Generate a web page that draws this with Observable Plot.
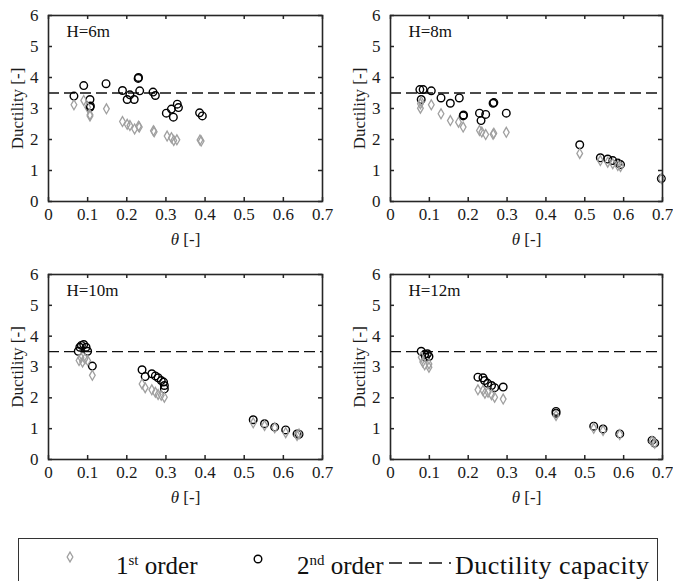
<!DOCTYPE html>
<html><head><meta charset="utf-8">
<script src="https://cdn.jsdelivr.net/npm/d3@7"></script>
<script src="https://cdn.jsdelivr.net/npm/@observablehq/plot@0.6"></script>
<style>
html,body{margin:0;padding:0;background:#fff;}
body{width:673px;height:581px;overflow:hidden;position:relative;font-family:"Liberation Serif","Times New Roman",serif;}
.panel{position:absolute;}
#legend{position:absolute;left:18px;top:538px;}
</style></head><body>
<div id="root"></div>
<script>
// ---------- data ----------
const xTicks = [0, 0.1, 0.2, 0.3, 0.4, 0.5, 0.6, 0.7];
const yTicks = [0, 1, 2, 3, 4, 5, 6];
const capacity = 3.5;
const panelTitles = ["H=6m", "H=8m", "H=10m", "H=12m"];

// H = 6 m
const h6Theta1 = [0.065,0.090,0.100,0.106,0.106,0.148,0.189,0.201,0.208,0.220,0.230,0.232,0.268,0.270,0.303,0.314,0.320,0.328,0.387,0.390];
const h6Duct1  = [3.12,3.26,3.04,2.80,2.76,2.99,2.58,2.49,2.45,2.34,2.43,2.40,2.28,2.25,2.11,2.06,1.97,1.99,1.98,1.95];
const h6Theta2 = [0.065,0.090,0.106,0.106,0.107,0.147,0.189,0.201,0.208,0.219,0.229,0.230,0.233,0.267,0.273,0.301,0.314,0.319,0.329,0.332,0.386,0.393];
const h6Duct2  = [3.40,3.74,3.29,3.04,3.08,3.80,3.58,3.29,3.44,3.29,3.97,4.00,3.57,3.53,3.42,2.85,2.98,2.72,3.14,3.03,2.86,2.76];

// H = 8 m
const h8Theta1 = [0.077,0.077,0.079,0.105,0.130,0.154,0.175,0.187,0.229,0.235,0.245,0.264,0.266,0.298,0.487,0.540,0.559,0.572,0.585,0.592,0.697];
const h8Duct1  = [3.15,3.01,3.22,3.12,2.83,2.61,2.56,2.40,2.29,2.24,2.16,2.17,2.20,2.23,1.55,1.32,1.27,1.22,1.16,1.13,0.74];
const h8Theta2 = [0.0755,0.084,0.079,0.105,0.130,0.154,0.177,0.187,0.188,0.229,0.233,0.245,0.264,0.266,0.298,0.487,0.540,0.559,0.572,0.585,0.592,0.697];
const h8Duct2  = [3.61,3.61,3.29,3.57,3.34,3.17,3.34,2.76,2.79,2.85,2.61,2.81,3.17,3.19,2.85,1.83,1.41,1.37,1.32,1.24,1.19,0.74];

// H = 10 m
const h10Theta1 = [0.078,0.083,0.087,0.093,0.100,0.112,0.239,0.247,0.264,0.273,0.280,0.288,0.296,0.523,0.552,0.578,0.606,0.635,0.640];
const h10Duct1  = [3.21,3.30,3.16,3.27,3.21,2.73,2.45,2.33,2.26,2.18,2.11,2.08,2.02,1.19,1.10,1.03,0.87,0.78,0.83];
const h10Theta2 = [0.076,0.080,0.084,0.090,0.096,0.100,0.112,0.239,0.247,0.264,0.273,0.280,0.288,0.294,0.296,0.296,0.523,0.552,0.578,0.606,0.635,0.640];
const h10Duct2  = [3.51,3.64,3.70,3.73,3.64,3.51,3.03,2.91,2.69,2.78,2.71,2.65,2.56,2.51,2.40,2.29,1.29,1.16,1.05,0.96,0.83,0.82];

// H = 12 m
const h12Theta1 = [0.079,0.083,0.088,0.099,0.099,0.225,0.238,0.243,0.251,0.260,0.268,0.290,0.426,0.523,0.547,0.590,0.673,0.680];
const h12Duct1  = [3.32,3.16,3.07,2.99,3.10,2.26,2.24,2.15,2.18,2.10,2.02,1.96,1.43,1.01,0.94,0.81,0.59,0.53];
const h12Theta2 = [0.079,0.088,0.090,0.095,0.099,0.225,0.238,0.242,0.250,0.260,0.268,0.290,0.426,0.426,0.523,0.547,0.590,0.673,0.680];
const h12Duct2  = [3.51,3.41,3.32,3.43,3.34,2.67,2.65,2.56,2.47,2.40,2.33,2.35,1.56,1.50,1.08,0.99,0.83,0.62,0.53];

const seriesNames = ["1st order", "2nd order", "Ductility capacity"];

// ---------- drawing ----------
const zip = (t, d) => t.map((v, i) => ({t: v, d: d[i]}));
const axisColor = "#262626";
const fs = 17;
const tk = 4; // inward tick length

function panel(title, t1, d1, t2, d2, box) {
  const pw = box.w - box.ml - box.mr;
  const ph = box.h - box.mt - box.mb;
  const ts = {stroke: axisColor, strokeWidth: 1.5};
  const chart = Plot.plot({
    width: box.w, height: box.h,
    marginLeft: box.ml, marginRight: box.mr, marginTop: box.mt, marginBottom: box.mb,
    style: {fontFamily: '"Liberation Serif","Times New Roman",serif', fontSize: fs + "px", color: axisColor, background: "white", overflow: "visible"},
    x: {domain: [0, 0.7]},
    y: {domain: [0, 6]},
    marks: [
      Plot.ruleY([capacity], {stroke: "#111", strokeWidth: 1.3, strokeDasharray: "11,5"}),
      Plot.dot(zip(t2, d2), {x: "t", y: "d", r: 3.8, stroke: "#000", strokeWidth: 1.4}),
      Plot.dot(zip(t1, d1), {x: "t", y: "d", r: 3, symbol: "diamond", stroke: "#a0a0a0", strokeWidth: 1.3}),
      Plot.axisX(xTicks, {anchor: "bottom", tickSize: 0, tickPadding: 6, tickFormat: d => String(d), label: "θ [-]", labelAnchor: "center", labelOffset: 43, labelArrow: "none", fill: "#1a1a1a"}),
      Plot.axisY(yTicks, {anchor: "left", tickSize: 0, tickPadding: 10, tickFormat: d => String(d), label: "Ductility [-]", labelAnchor: "center", labelOffset: 38, labelArrow: "none", fill: "#1a1a1a"}),
      // inward ticks on all four sides
      Plot.ruleX(xTicks, {x: d => d, insetTop: ph - tk, ...ts}),
      Plot.ruleX(xTicks, {x: d => d, insetBottom: ph - tk, ...ts}),
      Plot.ruleY(yTicks, {y: d => d, insetRight: pw - tk, ...ts}),
      Plot.ruleY(yTicks, {y: d => d, insetLeft: pw - tk, ...ts}),
      Plot.frame({stroke: axisColor, strokeWidth: 1.6}),
      Plot.text([title], {frameAnchor: "top-left", textAnchor: "start", lineAnchor: "top", dx: 18, dy: 9, fontSize: fs, fill: "#111"})
    ]
  });
  chart.classList.add("panel");
  chart.style.left = box.x + "px";
  chart.style.top = box.y + "px";
  const lab = chart.querySelector('[aria-label="x-axis label"] text');
  if (lab) lab.innerHTML = '<tspan font-style="italic">θ</tspan> [-]';
  document.getElementById("root").appendChild(chart);
}

const topH = 250, botH = 245;
panel(panelTitles[0], h6Theta1, h6Duct1, h6Theta2, h6Duct2, {x: 0, y: 0, w: 336, h: topH, ml: 48, mr: 14, mt: 15, mb: topH - 201});
panel(panelTitles[1], h8Theta1, h8Duct1, h8Theta2, h8Duct2, {x: 336, y: 0, w: 337, h: topH, ml: 54, mr: 11, mt: 15, mb: topH - 201});
panel(panelTitles[2], h10Theta1, h10Duct1, h10Theta2, h10Duct2, {x: 0, y: 259, w: 336, h: botH, ml: 48, mr: 14, mt: 15, mb: botH - 200});
panel(panelTitles[3], h12Theta1, h12Duct1, h12Theta2, h12Duct2, {x: 336, y: 259, w: 337, h: botH, ml: 54, mr: 11, mt: 15, mb: botH - 200});

// ---------- legend ----------
const lg = d3.select("body").append("svg").attr("id", "legend").attr("width", 640).attr("height", 60)
  .style("font-family", '"Liberation Serif","Times New Roman",serif');
lg.append("rect").attr("x", 0.5).attr("y", 0.5).attr("width", 639).attr("height", 70).attr("fill", "white").attr("stroke", "#333").attr("stroke-width", 1);
lg.append("path").attr("d", d3.symbol(d3.symbolDiamond, 28)()).attr("transform", "translate(52,19)").attr("fill", "none").attr("stroke", "#a0a0a0").attr("stroke-width", 1.3);
const sup = (x, base, s, rest) => {
  const t = lg.append("text").attr("x", x).attr("y", 36).attr("font-size", 25).attr("fill", "#111");
  t.append("tspan").text(base);
  t.append("tspan").attr("dy", -9).attr("font-size", 15).text(s);
  t.append("tspan").attr("dy", 9).text(rest);
};
sup(98, "1", "st", " order");
lg.append("circle").attr("cx", 240).attr("cy", 21).attr("r", 3.8).attr("fill", "none").attr("stroke", "#000").attr("stroke-width", 1.4);
sup(279, "2", "nd", " order");
lg.append("line").attr("x1", 371).attr("x2", 433).attr("y1", 25).attr("y2", 25).attr("stroke", "#111").attr("stroke-width", 1.5).attr("stroke-dasharray", "13,7");
lg.append("text").attr("x", 437).attr("y", 36).attr("font-size", 26).attr("letter-spacing", 0.5).attr("fill", "#111").text(seriesNames[2]);
</script>
</body></html>
